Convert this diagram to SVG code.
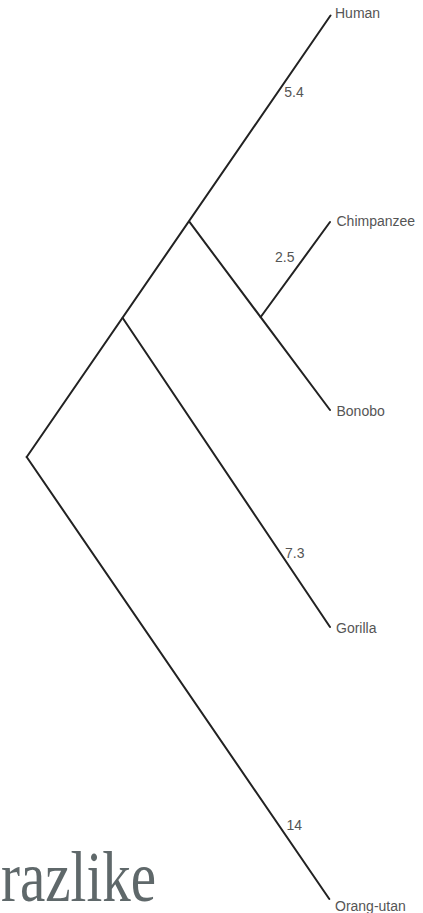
<svg xmlns="http://www.w3.org/2000/svg" width="423" height="913" viewBox="0 0 423 913">
  <style>
    .edge { stroke: #222; stroke-width: 2; fill: none; stroke-linecap: round; }
    .leaf { font-family: "Liberation Sans", Arial, sans-serif; font-size: 14px; fill: #555; }
    .len { font-family: "Liberation Sans", Arial, sans-serif; font-size: 14px; fill: #555; }
    .caption { font-family: "Liberation Serif", "Times New Roman", serif; font-size: 57px; fill: #5f686a; }
  </style>
  <rect width="423" height="913" fill="#ffffff"/>
  <g id="connectors">
    <line class="edge" x1="26.7" y1="457" x2="330.5" y2="15.5"/>
    <line class="edge" x1="189.3" y1="221.7" x2="330" y2="410"/>
    <line class="edge" x1="260.7" y1="317" x2="330" y2="222"/>
    <line class="edge" x1="122.7" y1="318" x2="330" y2="627"/>
    <line class="edge" x1="26.7" y1="457" x2="329.3" y2="899"/>
  </g>
  <g id="human"><text class="leaf" x="335" y="17.5">Human</text></g>
  <g id="chimpanzee"><text class="leaf" x="336.5" y="226">Chimpanzee</text></g>
  <g id="bonobo"><text class="leaf" x="336.5" y="416">Bonobo</text></g>
  <g id="gorilla"><text class="leaf" x="336" y="633">Gorilla</text></g>
  <g id="orang-utan"><text class="leaf" x="335" y="911">Orang-utan</text></g>
  <g id="branch-labels">
    <text class="len" x="284.3" y="97.3">5.4</text>
    <text class="len" x="275" y="262">2.5</text>
    <text class="len" x="285" y="558.3">7.3</text>
    <text class="len" x="286.5" y="830">14</text>
  </g>
  <g id="caption">
    <text class="caption" transform="translate(1,901) scale(1,1.25)">razlike</text>
  </g>
</svg>
